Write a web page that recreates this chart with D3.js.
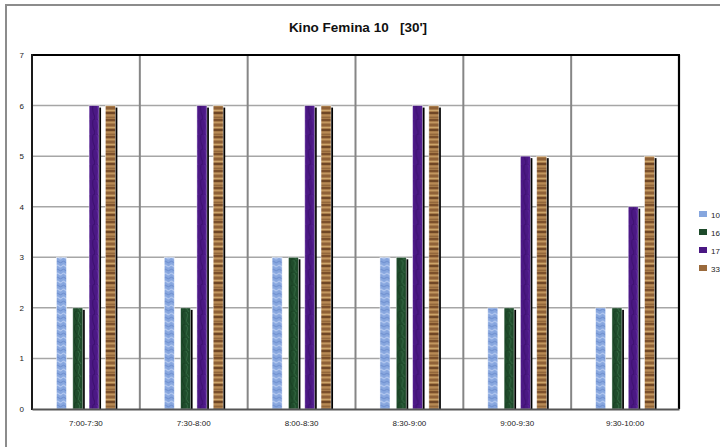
<!DOCTYPE html>
<html><head><meta charset="utf-8">
<script src="https://cdn.jsdelivr.net/npm/d3@7"></script>
<style>html,body{margin:0;padding:0;background:#fff;overflow:hidden}</style>
</head><body>
<svg id="c" width="720" height="447"></svg>
<script>
const categories = ["7:00-7:30","7:30-8:00","8:00-8:30","8:30-9:00","9:00-9:30","9:30-10:00"];
const seriesNames = ["10","16","17","33"];
const s10 = [3,3,3,3,2,2];
const s16 = [2,2,3,3,2,2];
const s17 = [6,6,6,6,5,4];
const s33 = [6,6,6,6,5,5];
const yTicks = [0,1,2,3,4,5,6,7];
const titleText = "Kino Femina 10   [30']";

const seriesValues = [s10, s16, s17, s33];
const svg = d3.select("#c");
const font = "'Liberation Sans', Arial, sans-serif";

// patterns (textures)
const defs = svg.append("defs");
function pat(id, w, h, base, draw) {
  const p = defs.append("pattern").attr("id", id).attr("patternUnits","userSpaceOnUse")
    .attr("width", w).attr("height", h);
  p.append("rect").attr("width", w).attr("height", h).attr("fill", base);
  draw(p);
}
pat("pBlue", 6, 8, "#88a7df", p => {
  p.append("path").attr("d","M0,2 Q1.5,0.5 3,2 T6,2").attr("stroke","#b3c8ef").attr("stroke-width",1.2).attr("fill","none");
  p.append("path").attr("d","M0,6 Q1.5,4.5 3,6 T6,6").attr("stroke","#6a8bcc").attr("stroke-width",1).attr("fill","none");
});
pat("pGreen", 9, 13, "#1f4c2b", p => {
  p.append("path").attr("d","M1,0 Q4,3 2,6 T4,13").attr("stroke","#356b44").attr("stroke-width",1).attr("fill","none");
  p.append("path").attr("d","M7,0 Q5,4 8,8 T7,13").attr("stroke","#173c21").attr("stroke-width",1).attr("fill","none");
});
pat("pPurple", 9, 15, "#4b1884", p => {
  p.append("path").attr("d","M2,0 Q4,5 3,9 T4,15").attr("stroke","#5b259b").attr("stroke-width",1.2).attr("fill","none");
  p.append("path").attr("d","M7,0 Q6,6 8,10 T7,15").attr("stroke","#3d1070").attr("stroke-width",1.1).attr("fill","none");
});
pat("pBrown", 10, 17, "#a87b49", p => {
  const stripes = [[0,2,"#7c502b"],[3,1,"#c39760"],[5,2,"#8f6137"],[8,1,"#cda56b"],[10,2,"#704725"],[13,1,"#b88a55"],[15,1,"#93673b"]];
  stripes.forEach(s => p.append("rect").attr("x",0).attr("y",s[0]).attr("width",10).attr("height",s[1]).attr("fill",s[2]));
});
const fills = ["url(#pBlue)","url(#pGreen)","url(#pPurple)","url(#pBrown)"];
const legendFills = ["#86a6de","#1d4a2a","#4a1783","#9a6a3c"];
const shadowOn = [false,true,true,true];

// outer chart border (only top/left visible)
svg.append("path").attr("d","M6,447 L6,5 L720,5").attr("stroke","#8c8c8c").attr("stroke-width",2).attr("fill","none");

// title
svg.append("text").attr("x",358).attr("y",32).attr("text-anchor","middle")
  .attr("font-family",font).attr("font-weight","bold").attr("font-size",13.5).attr("fill","#111")
  .attr("xml:space","preserve").style("white-space","pre")
  .text(titleText);

const L = 32, R = 679, T = 55, B = 409;
const x0 = d3.scaleBand().domain(categories).range([L, R]).paddingInner(0).paddingOuter(0);
const groupW = 58.9;
const x1 = d3.scaleBand().domain(seriesNames)
  .range([(x0.bandwidth()-groupW)/2, (x0.bandwidth()+groupW)/2]).paddingInner(0.387).paddingOuter(0);
const y = d3.scaleLinear().domain([0,7]).range([B, T]);

// horizontal gridlines
svg.append("g").selectAll("line").data(yTicks.filter(t => t>0 && t<7)).join("line")
  .attr("x1",L).attr("x2",R).attr("y1",d=>y(d)).attr("y2",d=>y(d))
  .attr("stroke","#a6a6a6").attr("stroke-width",1.5);
// vertical gridlines at category boundaries
svg.append("g").selectAll("line").data(categories.slice(1)).join("line")
  .attr("x1",d=>x0(d)).attr("x2",d=>x0(d)).attr("y1",T).attr("y2",B)
  .attr("stroke","#868686").attr("stroke-width",2);

// bars
const groups = svg.append("g").selectAll("g").data(categories).join("g")
  .attr("transform", d => `translate(${x0(d)},0)`);
seriesNames.forEach((s, si) => {
  const vals = seriesValues[si];
  if (shadowOn[si]) {
    groups.append("rect")
      .attr("x", x1(s) + 3).attr("width", x1.bandwidth() - 1)
      .attr("y", (d,i) => y(vals[i]) + 2).attr("height", (d,i) => B - y(vals[i]) - 2)
      .attr("fill", "#000");
  }
  groups.append("rect")
    .attr("x", x1(s)).attr("width", x1.bandwidth())
    .attr("y", (d,i) => y(vals[i])).attr("height", (d,i) => B - y(vals[i]))
    .attr("fill", fills[si]).attr("stroke", "rgba(255,255,255,0.55)").attr("stroke-width", 0.8);
});

// plot frame
svg.append("line").attr("x1",L).attr("x2",R+1).attr("y1",T).attr("y2",T).attr("stroke","#000").attr("stroke-width",2.2);
svg.append("line").attr("x1",R).attr("x2",R).attr("y1",T).attr("y2",B).attr("stroke","#000").attr("stroke-width",2.2);
svg.append("line").attr("x1",L).attr("x2",L).attr("y1",T-1).attr("y2",B+1).attr("stroke","#1a1a1a").attr("stroke-width",2);

// axes
const yAxis = d3.axisLeft(y).tickValues(yTicks).tickSize(0).tickPadding(8).tickFormat(d3.format("d"));
const gy = svg.append("g").attr("transform",`translate(${L},0)`).call(yAxis);
gy.select(".domain").remove();
gy.selectAll("text").attr("font-family",font).attr("font-size",8).attr("fill","#222");

const xAxis = d3.axisBottom(x0).tickSize(0).tickPadding(11);
const gx = svg.append("g").attr("transform",`translate(0,${B})`).call(xAxis);
gx.select(".domain").attr("stroke","#555").attr("stroke-width",2);
gx.selectAll("text").attr("font-family",font).attr("font-size",8).attr("fill","#222");

// legend
const lg = svg.append("g").selectAll("g").data(seriesNames).join("g")
  .attr("transform",(d,i)=>`translate(699,${211 + i*18})`);
lg.append("rect").attr("width",8).attr("height",6).attr("fill",(d,i)=>legendFills[i]);
lg.append("text").attr("x",12).attr("y",6.5).attr("font-family",font).attr("font-size",8).attr("fill","#222").text(d=>d);
</script>
</body></html>
